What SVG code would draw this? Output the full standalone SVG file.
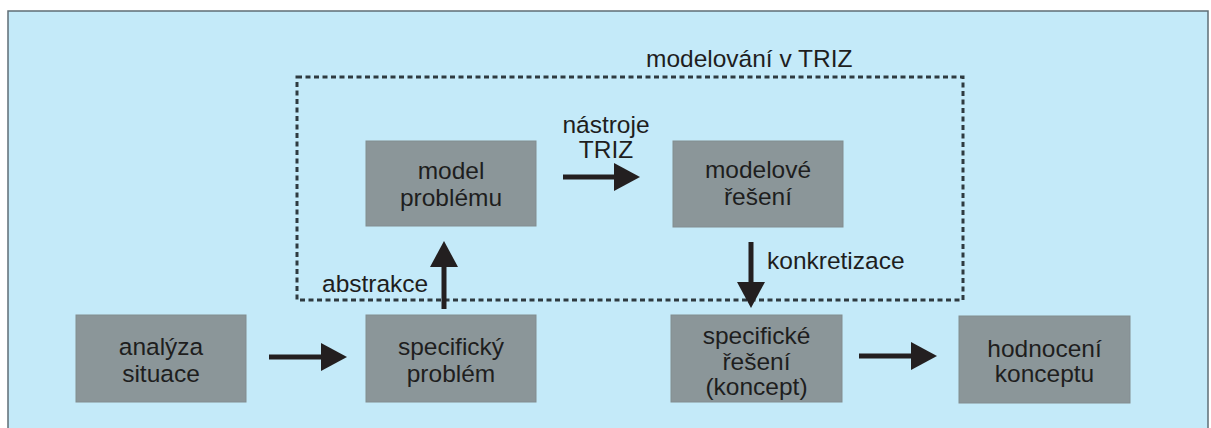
<svg xmlns="http://www.w3.org/2000/svg" width="1211" height="428" viewBox="0 0 1211 428">
<defs>
<style>
.panel{fill:#c4eaf9;stroke:#5f6e76;stroke-width:1.5}
.box{fill:#8b9699;stroke:#828d90;stroke-width:1}
.t{font-family:"Liberation Sans",Arial,sans-serif;font-size:24.5px;fill:#1e1e1e}
.c{text-anchor:middle}
.frame{fill:none;stroke:#2e3a40;stroke-width:3;stroke-dasharray:5 3.5}
.arr{stroke:#231f20;stroke-width:5;fill:none;marker-end:url(#ah)}
</style>
<marker id="ah" markerUnits="userSpaceOnUse" markerWidth="26" markerHeight="28" refX="12" refY="14" orient="auto" viewBox="0 0 26 28">
<path d="M0,0 L26,14 L0,28 z" fill="#231f20"/>
</marker>
</defs>
<rect class="panel" x="8" y="11" width="1200" height="430"/>
<g id="frame-triz">
<rect class="frame" x="297" y="77" width="666" height="223"/>
<text class="t" x="646" y="67">modelování v TRIZ</text>
</g>
<g id="connectors">
<line class="arr" x1="269" y1="357" x2="333" y2="357"/>
<line class="arr" x1="859" y1="356" x2="923" y2="356"/>
<line class="arr" x1="563" y1="177" x2="626" y2="177"/>
<line class="arr" x1="444" y1="309" x2="444" y2="255"/>
<line class="arr" x1="751" y1="242" x2="751" y2="294"/>
<text class="t c" x="606" y="133">nástroje</text>
<text class="t c" x="606" y="158">TRIZ</text>
<text class="t" x="322" y="292">abstrakce</text>
<text class="t" x="767" y="269">konkretizace</text>
</g>
<g id="n-model-problemu">
<rect class="box" x="366" y="141" width="170" height="85"/>
<text class="t c" x="451" y="179">model</text>
<text class="t c" x="451" y="206">problému</text>
</g>
<g id="n-modelove-reseni">
<rect class="box" x="673" y="141" width="170" height="86"/>
<text class="t c" x="758" y="178">modelové</text>
<text class="t c" x="758" y="205">řešení</text>
</g>
<g id="n-analyza">
<rect class="box" x="76" y="315" width="170" height="87"/>
<text class="t c" x="161" y="355">analýza</text>
<text class="t c" x="161" y="382">situace</text>
</g>
<g id="n-specificky-problem">
<rect class="box" x="366" y="315" width="170" height="87"/>
<text class="t c" x="451" y="355">specifický</text>
<text class="t c" x="451" y="382">problém</text>
</g>
<g id="n-specificke-reseni">
<rect class="box" x="671" y="315" width="171" height="87"/>
<text class="t c" x="756.5" y="344">specifické</text>
<text class="t c" x="756.5" y="370">řešení</text>
<text class="t c" x="756.5" y="395">(koncept)</text>
</g>
<g id="n-hodnoceni">
<rect class="box" x="959" y="316" width="171" height="87"/>
<text class="t c" x="1044.5" y="357">hodnocení</text>
<text class="t c" x="1044.5" y="382">konceptu</text>
</g>
</svg>
